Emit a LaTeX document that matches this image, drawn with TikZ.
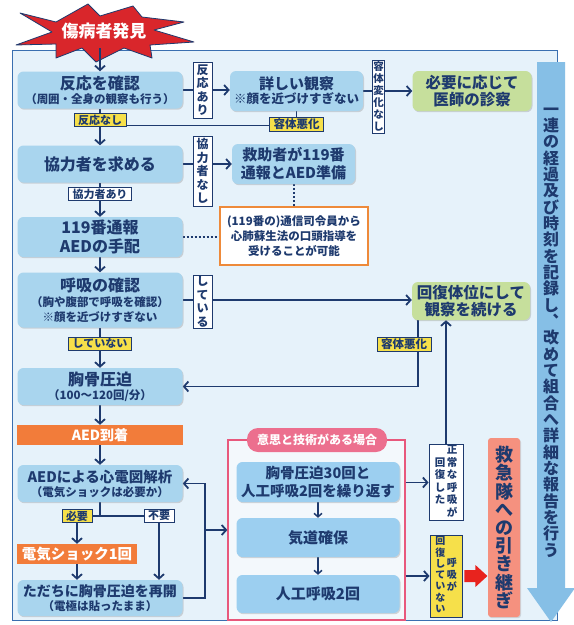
\documentclass[tikz,border=0pt]{standalone}
\usepackage{fontspec}
\setmainfont{Noto Sans CJK JP}
\usetikzlibrary{arrows.meta,shadows,calc}
\pgfdeclarelayer{back}\pgfdeclarelayer{bg}
\pgfsetlayers{back,bg,main}
\definecolor{navy}{HTML}{1E3A6E}
\definecolor{boxblue}{HTML}{A9D5EE}
\definecolor{boxblue2}{HTML}{9CCFF0}
\definecolor{panelfill}{HTML}{E6F2FA}
\definecolor{panelline}{HTML}{3A6FB0}
\definecolor{boxgreen}{HTML}{C6DF9C}
\definecolor{orangefill}{HTML}{F27C3A}
\definecolor{noteorange}{HTML}{EE8A3A}
\definecolor{labyellow}{HTML}{F6E04A}
\definecolor{pinkline}{HTML}{E8587C}
\definecolor{pinkpill}{HTML}{EC6F8E}
\definecolor{pinkfill}{HTML}{F3F8FC}
\definecolor{salmon}{HTML}{F5917F}
\definecolor{redarr}{HTML}{E8231E}
\definecolor{arrowblue}{HTML}{86BFE6}
\definecolor{starred}{HTML}{D9262B}
\newcommand\fs[2]{\fontsize{#1}{#2}\selectfont\bfseries}
\newcommand\vc[1]{\begin{tabular}{@{}c@{}}#1\end{tabular}}
\begin{document}
\begin{tikzpicture}[x=1pt,y=-1pt,
  every node/.style={text=navy, align=center, inner sep=0pt, font=\bfseries},
  box/.style={fill=boxblue, rounded corners=6pt, minimum width=165pt, minimum height=37pt,
     drop shadow={shadow xshift=1pt, shadow yshift=-1.2pt, opacity=.3}},
  gbox/.style={box, fill=boxgreen, minimum width=119pt, minimum height=40pt},
  obox/.style={fill=orangefill, text=white, minimum width=166pt, minimum height=20pt, font=\fs{14}{16}},
  ylab/.style={fill=labyellow, draw=navy, line width=.8pt, inner xsep=4pt, inner ysep=1.5pt, font=\fs{11}{13}},
  wlab/.style={fill=white, draw=navy, line width=.8pt, inner xsep=4pt, inner ysep=1.5pt, font=\fs{11}{13}},
  vlab/.style={fill=white, draw=navy, line width=.8pt, font=\fs{12}{13.6}},
  conn/.style={draw=navy, line width=1.8pt},
  arr/.style={conn, -{Straight Barb[length=4.5pt, width=10pt]}},
  sarr/.style={conn, line width=1.5pt, -{Straight Barb[length=3.5pt, width=8pt]}},
  dots/.style={draw=navy, line width=2pt, dash pattern=on 2pt off 2pt},
]
\useasboundingbox (0,0) rectangle (574,625);
\begin{pgfonlayer}{back}
\fill[white] (0,0) rectangle (574,625);
\draw[panelline, fill=panelfill, line width=1pt] (12,50) rectangle (557,620);
\fill[arrowblue] (537,62) -- (565,62) -- (565,588) -- (575,588) -- (551,622) -- (527,588) -- (537,588) -- cycle;
\node[draw=pinkline, line width=1.2pt, fill=pinkfill, minimum width=177pt, minimum height=180pt] (pink) at (316.5,530) {};
\end{pgfonlayer}

% star
\filldraw[fill=starred, draw=navy, line width=.8pt, line join=round]
  (20,13) -- (56,22) -- (88,4) -- (100,16) -- (133,6) -- (142,17) -- (184,22) -- (154,30)
  -- (194,42) -- (150,45) -- (152,58) -- (124,48) -- (96,62) -- (82,48) -- (56,58)
  -- (56,44) -- (16,45) -- (52,32) -- cycle;
\node[text=white, font=\fs{17}{19}] (star) at (104,31) {傷病者発見};
\coordinate (s0) at (100,48);

% left column
\node[box, font=\fs{11.5}{14}] (n1) at (100,90) {\fs{16}{18}反応を確認\\（周囲・全身の観察も行う）};
\node[box, font=\fs{16}{18}] (n2) at (100,164) {協力者を求める};
\node[box, minimum height=40pt, font=\fs{16}{19}] (n3) at (100,237) {119番通報\\AEDの手配};
\node[box, minimum height=55pt, font=\fs{11.5}{15}] (n4) at (100,300) {\fs{16}{18}呼吸の確認\\（胸や腹部で呼吸を確認）\\※顔を近づけすぎない};
\node[box, font=\fs{11.5}{14}] (n5) at (100,386.5) {\fs{16}{18}胸骨圧迫\\（100〜120回/分）};
\node[obox] (aed) at (100,435) {AED到着};
\node[box, font=\fs{11.5}{14}] (n6) at (100,483.5) {\fs{14.5}{17}AEDによる心電図解析\\（電気ショックは必要か）};
\node[obox, minimum width=120pt, minimum height=20pt, font=\fs{14.5}{16}] (shock) at (77,554) {電気ショック1回};
\node[box, minimum height=36pt, font=\fs{11.5}{14}] (n7) at (100,598) {\fs{14}{17}ただちに胸骨圧迫を再開\\（電極は貼ったまま）};

% right column
\node[box, minimum width=133pt, minimum height=40pt, font=\fs{12.5}{14}] (kan) at (296.5,91) {\fs{15}{17}詳しい観察\\※顔を近づけすぎない};
\node[gbox, font=\fs{15.5}{17}] (ishi) at (472,91) {必要に応じて\\医師の診察};
\node[box, minimum width=123pt, minimum height=40pt, font=\fs{15}{18}] (kyujo) at (293.5,164) {救助者が119番\\通報とAED準備};
\node[draw=noteorange, line width=1.5pt, fill=white, minimum width=148pt, minimum height=58pt, font=\fs{11.5}{15}] (note) at (294,236) {(119番の)通信司令員から\\心肺蘇生法の口頭指導を\\受けることが可能};
\node[gbox, minimum width=118pt, minimum height=38pt, font=\fs{15.5}{17}] (kai) at (471,301) {回復体位にして\\観察を続ける};

% pink group
\node[fill=pinkpill, rounded corners=11pt, minimum width=140pt, minimum height=24pt, text=white, font=\fs{12}{14}] (pill) at (317,440) {意思と技術がある場合};
\node[box, fill=boxblue2, minimum width=163pt, minimum height=40pt, font=\fs{14.5}{18}] (p1) at (318,482) {胸骨圧迫30回と\\人工呼吸2回を繰り返す};
\node[box, fill=boxblue2, minimum width=163pt, minimum height=39pt, font=\fs{15}{17}] (p2) at (318,537.5) {気道確保};
\node[box, fill=boxblue2, minimum width=163pt, minimum height=38pt, font=\fs{15}{17}] (p3) at (318,594) {人工呼吸2回};

\node[vlab, minimum width=34pt, minimum height=75pt, font=\fs{10.5}{12.4}] (seijo) at (446,482.5) {\vc{回\\復\\し\\た}\hspace{1.5pt}\vc{正\\常\\な\\呼\\吸\\が}};
\node[vlab, fill=labyellow, minimum width=32pt, minimum height=82pt, font=\fs{10}{11.2}] (nai) at (446,576) {\vc{回\\復\\し\\て\\い\\な\\い}\hspace{1.5pt}\vc{呼\\吸\\が}};
\node[fill=salmon, rounded corners=3pt, minimum width=32pt, minimum height=179pt, font=\fs{18}{18.2},
      drop shadow={shadow xshift=1pt, shadow yshift=-1.2pt, opacity=.25}] (kyu) at (504,527.5) {救\\急\\隊\\へ\\の\\引\\き\\継\\ぎ};

\node[font=\fs{16}{16.33}] (bigtxt) at (551,332.5) {一\\連\\の\\経\\過\\及\\び\\時\\刻\\を\\記\\録\\し\\︑\\改\\め\\て\\組\\合\\へ\\詳\\細\\な\\報\\告\\を\\行\\う};

% labels
\node[ylab] (nashi) at (100,120) {反応なし};
\node[ylab, font=\fs{11.5}{13}] (ak1) at (296.5,124.5) {容体悪化};
\node[vlab, minimum width=19pt, minimum height=56pt] (ari) at (202.5,90) {反\\応\\あ\\り};
\node[vlab, minimum width=12pt, minimum height=73pt, font=\fs{10.5}{12}] (yhn) at (378.5,96.5) {容\\体\\変\\化\\な\\し};
\node[vlab, minimum width=19pt, minimum height=70pt] (kn) at (202.5,171) {協\\力\\者\\な\\し};
\node[wlab] (kari) at (100,194) {協力者あり};
\node[vlab, minimum width=19pt, minimum height=53pt] (shiteiru) at (202.5,301.5) {し\\て\\い\\る};
\node[ylab] (shitenai) at (100,343.5) {していない};
\node[ylab, font=\fs{11.5}{13}] (ak2) at (404,344.5) {容体悪化};
\node[ylab] (hit) at (77,516) {必要};
\node[wlab] (fuyo) at (159,516) {不要};

\draw[arr] (s0) -- (n1.north);

\begin{pgfonlayer}{bg}
\coordinate (hy) at (0,125.5);
\draw[arr] (n1.south) -- (n2.north);
\draw[arr] (n1.east) -- (n1.east -| kan.west);
\draw[arr] (kan.east) -- (kan.east -| ishi.west);
\draw[conn] (kan.south) -- (kan.south |- hy) -- (n1.south |- hy);
\draw[arr] (n2.east) -- (n2.east -| kyujo.west);
\draw[dots] (kyujo.south) -- (kyujo.south |- note.north);
\draw[arr] (n2.south) -- (n3.north);
\draw[dots] (n3.east) -- (n3.east -| note.west);
\draw[arr] (n3.south) -- (n4.north);
\draw[arr] (n4.east) -- (n4.east -| kai.west);
\draw[arr] (n4.south) -- (n5.north);
\draw[arr] ([xshift=-53pt]kai.south) |- (n5.east);
\draw[arr] (n5.south) -- (aed.north);
\draw[arr] (aed.south) -- (n6.north);
\draw[conn] (n6.south) -- (n6.south |- hit);
\draw[conn] (hit.east) -- (fuyo.west);
\draw[arr] (hit.south) -- (hit.south |- shock.north);
\draw[arr] (fuyo.south) -- (fuyo.south |- n7.north);
\draw[arr] (shock.south) -- (shock.south |- n7.north);
\coordinate (lp) at (205,530);
\draw[arr] (n7.east) -| (lp) |- (n6.east);
\draw[arr] (lp) -- (lp -| pink.west);
\draw[sarr] (p1.south) -- (p2.north);
\draw[sarr] (p2.south) -- (p3.north);
\draw[arr] (pink.east |- seijo.west) -- (seijo.west);
\draw[arr] (seijo.north) -- (seijo.north |- kai.south);
\draw[arr] (pink.east |- nai.west) -- (nai.west);
\fill[redarr] (nai.east) ++(2,-6) -- ++(11,0) -- ++(0,-5) -- ++(12,11) -- ++(-12,11) -- ++(0,-5) -- ++(-11,0) -- cycle;
\end{pgfonlayer}
\end{tikzpicture}
\end{document}
